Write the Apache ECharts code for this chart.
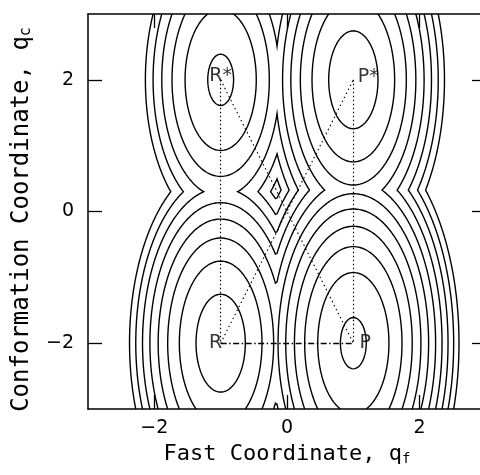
<!DOCTYPE html>
<html>
<head>
<meta charset="utf-8">
<script src="https://cdn.jsdelivr.net/npm/echarts@6/dist/echarts.min.js"></script>
<style>
  html, body { margin: 0; padding: 0; background: #fff; }
  #main { width: 480px; height: 475px; }
</style>
</head>
<body>
<div id="main"></div>
<script>
// four harmonic wells, the surface is the lower envelope of them
var wellNames = ['R*', 'P*', 'R', 'P'];
var wellX = [-1, 1, -1, 1];
var wellY = [2, 2, -2, -2];
var wellE = [2.5, 1.3, 1.3, 0];
var stiffX = 2, stiffY = 0.5;
// contour levels
var levels = [0.076, 0.576, 1.076, 1.576, 2.076, 2.576, 3.076, 3.576, 4.076, 4.576, 5.076];
var tickVals = [-2, 0, 2];

var N = 240, lo = -3, hi = 3;
var gx = [];
for (var i = 0; i <= N; i++) gx.push(lo + (hi - lo) * i / N);

function pot(x, y) {
    var v = Infinity;
    for (var k = 0; k < wellX.length; k++) {
        var e = wellE[k] + stiffX * (x - wellX[k]) * (x - wellX[k]) + stiffY * (y - wellY[k]) * (y - wellY[k]);
        if (e < v) v = e;
    }
    return v;
}

var grid = [];
for (var i = 0; i <= N; i++) {
    grid.push([]);
    for (var j = 0; j <= N; j++) grid[i].push(pot(gx[i], gx[j]));
}

var caseTable = {1: [['L', 'B']], 2: [['B', 'R']], 3: [['L', 'R']], 4: [['R', 'T']], 6: [['B', 'T']],
    7: [['L', 'T']], 8: [['L', 'T']], 9: [['B', 'T']], 11: [['R', 'T']], 12: [['L', 'R']],
    13: [['B', 'R']], 14: [['L', 'B']]};

function trace(level) {
    var pts = {}, segs = [], byKey = {};
    function cut(key, x1, y1, v1, x2, y2, v2) {
        if (!pts[key]) {
            var t = (level - v1) / (v2 - v1);
            pts[key] = [x1 + t * (x2 - x1), y1 + t * (y2 - y1)];
        }
        return key;
    }
    for (var i = 0; i < N; i++) {
        for (var j = 0; j < N; j++) {
            var a = grid[i][j], b = grid[i + 1][j], c = grid[i + 1][j + 1], d = grid[i][j + 1];
            var idx = (a > level ? 1 : 0) | (b > level ? 2 : 0) | (c > level ? 4 : 0) | (d > level ? 8 : 0);
            if (idx === 0 || idx === 15) continue;
            var pairs;
            if (idx === 5 || idx === 10) {
                var up = (a + b + c + d) / 4 > level;
                if ((idx === 5) === up) pairs = [['B', 'R'], ['T', 'L']];
                else pairs = [['L', 'B'], ['R', 'T']];
            } else {
                pairs = caseTable[idx];
            }
            var x0 = gx[i], x1 = gx[i + 1], y0 = gx[j], y1 = gx[j + 1];
            for (var p = 0; p < pairs.length; p++) {
                var ks = pairs[p].map(function (e) {
                    if (e === 'B') return cut('h' + i + '_' + j, x0, y0, a, x1, y0, b);
                    if (e === 'T') return cut('h' + i + '_' + (j + 1), x0, y1, d, x1, y1, c);
                    if (e === 'L') return cut('v' + i + '_' + j, x0, y0, a, x0, y1, d);
                    return cut('v' + (i + 1) + '_' + j, x1, y0, b, x1, y1, c);
                });
                var s = segs.length;
                segs.push(ks);
                (byKey[ks[0]] = byKey[ks[0]] || []).push(s);
                (byKey[ks[1]] = byKey[ks[1]] || []).push(s);
            }
        }
    }
    var used = [], lines = [];
    function grow(chain, key) {
        while (true) {
            var list = byKey[key], next = -1;
            for (var q = 0; q < list.length; q++) if (!used[list[q]]) { next = list[q]; break; }
            if (next < 0) return;
            used[next] = true;
            key = segs[next][0] === key ? segs[next][1] : segs[next][0];
            chain.push(key);
        }
    }
    for (var s = 0; s < segs.length; s++) {
        if (used[s]) continue;
        used[s] = true;
        var fwd = [segs[s][1]], back = [];
        grow(fwd, segs[s][1]);
        grow(back, segs[s][0]);
        var keys = back.reverse().concat([segs[s][0]], fwd);
        lines.push({coords: keys.map(function (k) { return pts[k]; })});
    }
    return lines;
}

var contourData = [];
levels.forEach(function (L) { contourData = contourData.concat(trace(L)); });

function pt(k) { return [wellX[k], wellY[k]]; }
function tickText(v) { return v < 0 ? '\u2212' + (-v) : String(v); }

var myChart = echarts.init(document.getElementById('main'));
var font = 'DejaVu Sans';
var labelOffsets = [[0, -4], [15, -3], [-5, 0], [12, 0]];
var axisLine = {show: true, onZero: false, lineStyle: {color: '#000', width: 1.5}};
var axisTick = {show: true, inside: true, length: 14, customValues: tickVals, lineStyle: {color: '#000', width: 1.3}};

myChart.setOption({
    animation: false,
    backgroundColor: '#fff',
    grid: {left: 88, top: 14, width: 398, height: 395, outerBoundsMode: 'none', containLabel: false},
    xAxis: [{
        type: 'value', min: -3, max: 3,
        axisLine: axisLine, axisTick: axisTick,
        axisLabel: {customValues: tickVals, formatter: tickText, color: '#000', fontSize: 19, fontFamily: font, margin: 10},
        splitLine: {show: false},
        name: 'Fast Coordinate, q{s|f}', nameLocation: 'middle', nameGap: 32,
        nameTextStyle: {color: '#000', fontSize: 22, fontFamily: 'DejaVu Sans Mono',
            rich: {s: {fontSize: 14, fontFamily: 'DejaVu Sans Mono', color: '#000', padding: [10, 0, 0, 0]}}}
    }, {
        type: 'value', min: -3, max: 3, position: 'top',
        axisLine: axisLine, axisTick: axisTick,
        axisLabel: {show: false}, splitLine: {show: false}
    }],
    yAxis: [{
        type: 'value', min: -3, max: 3,
        axisLine: axisLine, axisTick: axisTick,
        axisLabel: {customValues: tickVals, formatter: tickText, color: '#000', fontSize: 19, fontFamily: font, margin: 14},
        splitLine: {show: false},
        name: 'Conformation Coordinate, q{s|c}', nameLocation: 'middle', nameGap: 54, nameRotate: 90,
        nameTextStyle: {color: '#000', fontSize: 24, fontFamily: 'DejaVu Sans Mono', padding: [0, 16, 0, 0],
            rich: {s: {fontSize: 15, fontFamily: 'DejaVu Sans Mono', color: '#000', padding: [10, 0, 0, 0]}}}
    }, {
        type: 'value', min: -3, max: 3, position: 'right',
        axisLine: axisLine, axisTick: axisTick,
        axisLabel: {show: false}, splitLine: {show: false}
    }],
    series: [{
        type: 'lines', coordinateSystem: 'cartesian2d', polyline: true, silent: true,
        lineStyle: {color: '#000', width: 1.4, opacity: 1, curveness: 0},
        data: contourData
    }, {
        type: 'lines', coordinateSystem: 'cartesian2d', silent: true,
        lineStyle: {color: '#000', width: 1.2, opacity: 1, type: [1.5, 2.5]},
        data: [{coords: [pt(0), pt(2)]}, {coords: [pt(1), pt(3)]}]
    }, {
        type: 'lines', coordinateSystem: 'cartesian2d', silent: true,
        lineStyle: {color: '#000', width: 1.1, opacity: 1, type: [1.5, 3]},
        data: [{coords: [pt(0), pt(3)]}, {coords: [pt(2), pt(1)]}]
    }, {
        type: 'lines', coordinateSystem: 'cartesian2d', silent: true,
        lineStyle: {color: '#000', width: 1.3, opacity: 1, type: [6, 2.5, 1.5, 2.5]},
        data: [{coords: [pt(2), pt(3)]}]
    }, {
        type: 'scatter', symbolSize: 0, silent: true,
        data: wellNames.map(function (n, k) {
            return {value: [wellX[k], wellY[k]], name: n,
                label: {offset: labelOffsets[k]}};
        }),
        label: {show: true, position: 'inside', formatter: '{b}', color: '#000', fontSize: 19, fontFamily: font}
    }]
});
</script>
</body>
</html>
